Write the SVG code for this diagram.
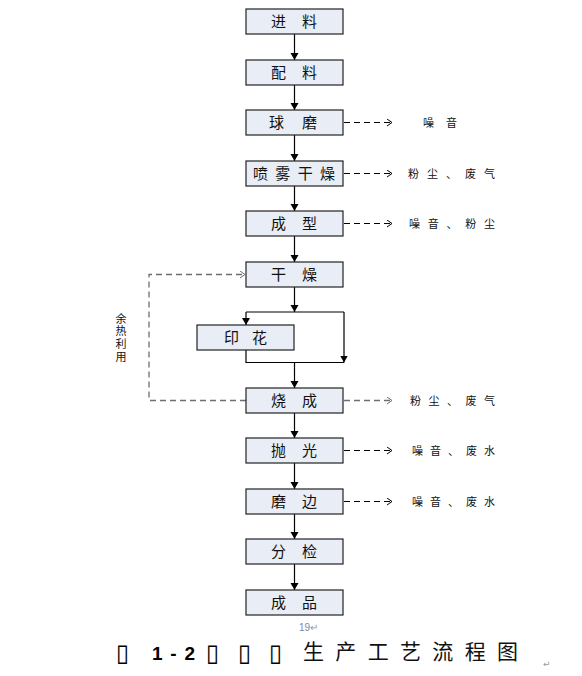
<svg xmlns="http://www.w3.org/2000/svg" width="582" height="676" viewBox="0 0 582 676">
<style>
.box{fill:#e8edf6;stroke:#222;stroke-width:1.2}
.bt{font-family:"Noto Sans CJK SC","Liberation Sans",sans-serif;font-size:15px;fill:#111}
.lt{font-family:"Noto Sans CJK SC","Liberation Sans",sans-serif;font-size:11px;fill:#111}
.ln{fill:none;stroke:#000;stroke-width:1.2}
.dk{fill:none;stroke:#000;stroke-width:1.1;stroke-dasharray:6,4}
.dg{fill:none;stroke:#6e6e6e;stroke-width:1.3;stroke-dasharray:6,4}
.tf{font-family:"DejaVu Sans",sans-serif;font-weight:bold;font-size:24px;fill:#000}
</style>
<defs>
<marker id="fa" markerUnits="userSpaceOnUse" markerWidth="9" markerHeight="9" refX="7" refY="4" orient="auto">
<path d="M0,0 L7,4 L0,8 z" fill="#000"/>
</marker>
<marker id="oa" markerUnits="userSpaceOnUse" markerWidth="8" markerHeight="8" refX="5" refY="3.5" orient="auto">
<path d="M0,0 L5,3.5 L0,7" fill="none" stroke="#000" stroke-width="1"/>
</marker>
<marker id="og" markerUnits="userSpaceOnUse" markerWidth="8" markerHeight="8" refX="5" refY="3.5" orient="auto">
<path d="M0,0 L5,3.5 L0,7" fill="none" stroke="#6e6e6e" stroke-width="1"/>
</marker>
</defs>
<rect width="582" height="676" fill="#fff"/>

<g id="connectors">
<path class="ln" d="M294.5,34 V60" marker-end="url(#fa)"/>
<path class="ln" d="M294.5,85 V110" marker-end="url(#fa)"/>
<path class="ln" d="M294.5,135 V161" marker-end="url(#fa)"/>
<path class="ln" d="M294.5,186 V211" marker-end="url(#fa)"/>
<path class="ln" d="M294.5,236 V262" marker-end="url(#fa)"/>
<path class="ln" d="M294.5,287 V312" marker-end="url(#fa)"/>
<path class="ln" d="M246,312 H344"/>
<path class="ln" d="M246,312 V325" marker-end="url(#fa)"/>
<path class="ln" d="M344,312 V362.5" marker-end="url(#fa)"/>
<path class="ln" d="M246,350 V362.5 H344"/>
<path class="ln" d="M294.5,362.5 V388" marker-end="url(#fa)"/>
<path class="ln" d="M294.5,413 V438" marker-end="url(#fa)"/>
<path class="ln" d="M294.5,463 V489" marker-end="url(#fa)"/>
<path class="ln" d="M294.5,514 V539" marker-end="url(#fa)"/>
<path class="ln" d="M294.5,564 V590" marker-end="url(#fa)"/>
<path class="dk" d="M344,122.5 H392" marker-end="url(#oa)"/>
<path class="dk" d="M344,173.5 H392" marker-end="url(#oa)"/>
<path class="dk" d="M344,223.5 H392" marker-end="url(#oa)"/>
<path class="dg" d="M344,400.5 H392" marker-end="url(#og)"/>
<path class="dk" d="M344,450.5 H392" marker-end="url(#oa)"/>
<path class="dk" d="M344,501.5 H392" marker-end="url(#oa)"/>
<path class="dg" d="M246,400.5 H149 V274.5 H245" marker-end="url(#og)"/>
</g>

<g id="n1"><rect class="box" x="246" y="9" width="97" height="25"/><text class="bt" x="271" y="27" textLength="46" lengthAdjust="spacing">进料</text></g>
<g id="n2"><rect class="box" x="246" y="60" width="97" height="25"/><text class="bt" x="271" y="78" textLength="46" lengthAdjust="spacing">配料</text></g>
<g id="n3"><rect class="box" x="246" y="110" width="97" height="25"/><text class="bt" x="269" y="128" textLength="48" lengthAdjust="spacing">球磨</text></g>
<g id="n4"><rect class="box" x="246" y="161" width="97" height="25"/><text class="bt" x="253" y="179" textLength="82" lengthAdjust="spacing">喷雾干燥</text></g>
<g id="n5"><rect class="box" x="246" y="211" width="97" height="25"/><text class="bt" x="271" y="229" textLength="46" lengthAdjust="spacing">成型</text></g>
<g id="n6"><rect class="box" x="246" y="262" width="97" height="25"/><text class="bt" x="271" y="280" textLength="46" lengthAdjust="spacing">干燥</text></g>
<g id="n7"><rect class="box" x="197" y="325" width="97" height="25"/><text class="bt" x="224" y="343" textLength="43" lengthAdjust="spacing">印花</text></g>
<g id="n8"><rect class="box" x="246" y="388" width="97" height="25"/><text class="bt" x="271" y="406" textLength="46" lengthAdjust="spacing">烧成</text></g>
<g id="n9"><rect class="box" x="246" y="438" width="97" height="25"/><text class="bt" x="271" y="456" textLength="46" lengthAdjust="spacing">抛光</text></g>
<g id="n10"><rect class="box" x="246" y="489" width="97" height="25"/><text class="bt" x="271" y="507" textLength="46" lengthAdjust="spacing">磨边</text></g>
<g id="n11"><rect class="box" x="246" y="539" width="97" height="25"/><text class="bt" x="271" y="557" textLength="46" lengthAdjust="spacing">分检</text></g>
<g id="n12"><rect class="box" x="246" y="590" width="97" height="25"/><text class="bt" x="271" y="608" textLength="46" lengthAdjust="spacing">成品</text></g>

<g id="labels">
<text class="lt" x="423" y="126.5" textLength="34" lengthAdjust="spacing">噪音</text>
<text class="lt" x="408" y="177.5" textLength="87" lengthAdjust="spacing">粉尘、废气</text>
<text class="lt" x="409" y="227.5" textLength="86" lengthAdjust="spacing">噪音、粉尘</text>
<text class="lt" x="410" y="404.5" textLength="85" lengthAdjust="spacing">粉尘、废气</text>
<text class="lt" x="412" y="454.5" textLength="83" lengthAdjust="spacing">噪音、废水</text>
<text class="lt" x="412" y="505.5" textLength="83" lengthAdjust="spacing">噪音、废水</text>
<text class="lt" x="121" y="313" writing-mode="tb" style="font-size:11px" textLength="49" lengthAdjust="spacing">余热利用</text>
</g>

<g id="footer">
<text x="299" y="631" font-family="Liberation Sans,sans-serif" font-size="10" fill="#7f86a8">19<tspan fill="#999">↵</tspan></text>
<text class="tf" x="116" y="661">▯</text>
<text class="tf" x="206" y="661">▯</text>
<text class="tf" x="238" y="661">▯</text>
<text class="tf" x="269" y="661">▯</text>
<text x="152" y="660" font-family="Liberation Sans,sans-serif" font-weight="bold" font-size="19" textLength="43" lengthAdjust="spacing">1-2</text>
<text x="303" y="659" font-family="Noto Sans CJK SC,sans-serif" font-size="21" textLength="215" lengthAdjust="spacing" fill="#111">生产工艺流程图</text>
<text x="543" y="667" font-family="DejaVu Sans,sans-serif" font-size="9" fill="#999">↵</text>
</g>
</svg>
